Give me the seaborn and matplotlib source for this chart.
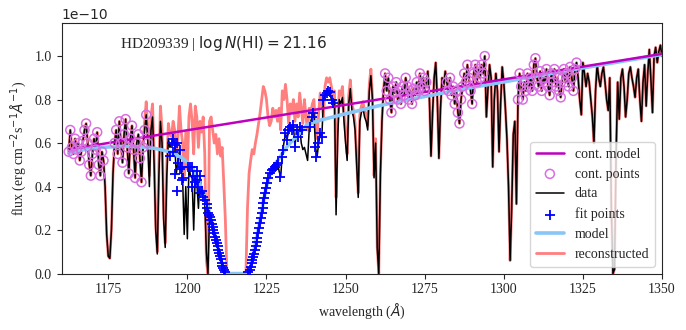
import matplotlib
matplotlib.use('Agg')
import matplotlib.pyplot as plt
import numpy as np
import seaborn as sns

# flux in units of 1e-10 erg/cm2/s/A, sampled every 0.5 A from the segment start
data_segments = [
    (1162.5, [0.56, 0.66, 0.58, 0.55, 0.62, 0.57, 0.60, 0.52, 0.56, 0.61,
              0.66, 0.69, 0.60, 0.50, 0.45, 0.55, 0.62, 0.57, 0.65, 0.50,
              0.45, 0.56, 0.52, 0.40, 0.18, 0.08, 0.07, 0.20, 0.46, 0.60,
              0.66, 0.55, 0.70, 0.60, 0.51, 0.64, 0.71, 0.58, 0.46, 0.62,
              0.68, 0.57, 0.44, 0.60, 0.64, 0.53, 0.42, 0.58, 0.66, 0.73,
              0.60, 0.40, 0.66, 0.72, 0.50, 0.20, 0.09, 0.45, 0.70, 0.60,
              0.25, 0.12, 0.45, 0.62, 0.58]),
    (1195.0, [0.60, 0.62, 0.59, 0.46, 0.51, 0.57, 0.48, 0.44, 0.18, 0.40,
              0.16, 0.49, 0.45, 0.44, 0.20, 0.46, 0.42, 0.30, 0.45, 0.38,
              0.35, 0.33, 0.10, 0.00, 0.26, 0.24, 0.21, 0.18, 0.155, 0.125,
              0.095, 0.065, 0.035, 0.015, 0.005]),
    (1212.5, [0.0, 0.0, 0.0, 0.0, 0.0, 0.0, 0.0, 0.0, 0.0, 0.0, 0.0, 0.0, 0.0, 0.0]),
    (1219.5, [0.01, 0.03, 0.06, 0.09, 0.115, 0.155, 0.195, 0.24, 0.277, 0.323,
              0.369, 0.41, 0.435, 0.455, 0.474, 0.48, 0.49, 0.50, 0.505, 0.47,
              0.445, 0.55, 0.60, 0.645, 0.614, 0.66, 0.675, 0.66, 0.683, 0.583,
              0.66, 0.629, 0.675, 0.60, 0.57, 0.58, 0.55, 0.52, 0.66, 0.70,
              0.725, 0.735, 0.58, 0.537, 0.60, 0.645, 0.629, 0.798, 0.82, 0.829,
              0.84, 0.836, 0.80, 0.783, 0.80, 0.27]),
    (1247.5, [0.62, 0.80, 0.78, 0.81, 0.70, 0.60, 0.52, 0.78, 0.85, 0.75,
              0.72, 0.66, 0.50, 0.35, 0.70, 0.74, 0.76, 0.72, 0.70, 0.66,
              0.84, 0.91, 0.80, 0.44, 0.60, 0.12, 0.00, 0.45, 0.70, 0.84]),
    (1262.5, [0.92, 0.84, 0.90, 0.80, 0.74, 0.86, 0.83, 0.88, 0.80, 0.84,
              0.78, 0.86, 0.82, 0.90, 0.86, 0.80, 0.84, 0.78, 0.85, 0.82,
              0.88, 0.84, 0.92, 0.86, 0.90, 0.84, 0.88, 0.93, 0.80, 0.54,
              0.74, 0.90, 0.97, 0.80, 0.53, 0.76, 0.90, 0.86, 0.93]),
    (1282.0, [0.88, 0.84, 0.90, 0.82, 0.86, 0.78, 0.84, 0.74, 0.69, 0.80,
              0.86, 0.92, 0.88, 0.96, 0.90, 0.84, 0.78, 0.92, 0.96, 0.88,
              0.94, 0.90, 0.96, 0.92, 1.00]),
    (1294.5, [0.72, 0.85, 0.96, 0.90, 0.49, 0.80, 0.92, 0.84, 0.56, 0.78,
              0.95, 0.88, 0.76, 0.62, 0.40, 0.06, 0.30, 0.64, 0.70, 0.32]),
    (1304.5, [0.80, 0.92, 0.86, 0.80, 0.88, 0.84, 0.92, 0.86, 0.90, 0.84,
              0.96, 0.99, 0.90, 0.86, 0.93, 0.84, 0.90, 0.88, 0.94, 0.86,
              0.82, 0.92, 0.88, 0.94, 0.86, 0.90, 0.84, 0.81, 0.90, 0.94,
              0.88, 0.92, 0.86, 0.95, 0.90, 0.84, 0.94, 0.97]),
    (1323.5, [0.90, 0.80, 0.73, 0.97, 0.92, 0.86, 0.92, 0.88, 0.80, 0.72,
              0.60, 0.84, 0.96, 0.90, 0.86, 0.92, 0.95, 0.88, 0.80, 0.75,
              0.90, 0.30, 0.00, 0.02, 0.55, 0.88, 0.71, 0.90, 0.94, 0.86,
              0.72, 0.80, 0.92, 0.95, 0.90, 0.86, 0.81, 0.90, 0.94, 0.80,
              0.70, 0.88, 0.96, 0.77, 0.92, 1.03, 0.89, 0.74, 1.00, 1.04,
              0.97, 1.02, 1.05, 1.00]),
]

# reconstructed spectrum around Ly-alpha (same 0.5 A grid), nan = not drawn
recon_start = 1186.0
recon_values = [0.60, 0.70, 0.79, 0.66, 0.45, 0.72, 0.78, 0.55, 0.22, 0.10,
                0.50, 0.77, 0.66, 0.28, 0.14, 0.50, 0.69, 0.64, 0.63, 0.70,
                0.66, 0.54, 0.62, 0.77, 0.66, 0.60, 0.45, 0.65, 0.48, 0.72,
                0.78, 0.70, 0.55, 0.77, 0.72, 0.58, 0.70, 0.65, 0.72, 0.55,
                0.06, 0.00, 0.70, 0.72, 0.66, 0.60, 0.64, 0.55, 0.62, 0.54,
                0.58, 0.42, 0.25, 0.00,
                np.nan, np.nan, np.nan, np.nan, np.nan, np.nan, np.nan, np.nan,
                np.nan, np.nan, np.nan,
                0.00, 0.30, 0.46, 0.52, 0.57, 0.55, 0.60, 0.64,
                0.69, 0.74, 0.80, 0.86, 0.84, 0.80, 0.72, 0.68, 0.70, 0.76,
                0.72, 0.75, 0.70, 0.76, 0.66, 0.84, 0.80, 0.87, 0.80, 0.69,
                0.78, 0.74, 0.80, 0.70, 0.78, 0.72, 0.83, 0.76, 0.69, 0.80,
                0.72, 0.66, 0.76, 0.74, 0.78, 0.80, 0.68, 0.62, 0.74, 0.83,
                0.78, 0.72, 0.86, 0.90, 0.88, 0.90, 0.86, 0.81, 0.84, 0.35,
                0.68, 0.84, 0.82, 0.86, 0.74, 0.64, 0.55, 0.82, 0.89, 0.78,
                0.75, 0.69, 0.52, 0.37, 0.73, 0.77, 0.79, 0.75, 0.73, 0.68,
                0.87, 0.94, 0.82, 0.45, 0.62, 0.12, 0.00, 0.46, 0.71, 0.85]

# wavelength windows used as continuum points
cont_windows = [(1162.4, 1173.6), (1177.0, 1187.6), (1262.4, 1275.8),
                (1282.0, 1294.1), (1304.4, 1323.4)]

# continuum model
cont_wave = [1163.0, 1200.0, 1250.0, 1300.0, 1350.0]
cont_flux = [0.572, 0.659, 0.776, 0.893, 1.010]

# Voigt model
model_wave = [1162.5, 1166, 1170, 1175, 1180, 1185, 1190, 1194.5, 1198, 1201,
              1203, 1205, 1207, 1209, 1210.5, 1211.5, 1212.5, 1219.0, 1220, 1221,
              1222, 1223, 1224, 1225, 1226, 1227.5, 1229.3, 1231, 1233.4, 1235.5,
              1237.8, 1241.9, 1246, 1250, 1255, 1260, 1270, 1280, 1290, 1300,
              1310, 1320, 1335, 1350]
model_flux = [0.553, 0.566, 0.576, 0.582, 0.585, 0.583, 0.575, 0.560, 0.535, 0.50,
              0.45, 0.37, 0.28, 0.16, 0.07, 0.02, 0.0, 0.0, 0.03, 0.10,
              0.17, 0.245, 0.33, 0.40, 0.45, 0.50, 0.535, 0.575, 0.615, 0.645,
              0.685, 0.705, 0.72, 0.735, 0.752, 0.770, 0.800, 0.828, 0.856, 0.881,
              0.907, 0.933, 0.970, 1.007]

# points used in the fit (wavelength, flux)
fit_points = [
    (1194.5, 0.54), (1195.0, 0.60), (1195.35, 0.56), (1195.5, 0.62), (1196.1, 0.59),
    (1196.1, 0.46), (1196.6, 0.60), (1196.6, 0.38), (1197.1, 0.51), (1197.7, 0.48),
    (1197.7, 0.57), (1198.2, 0.43), (1198.2, 0.49), (1198.7, 0.44), (1200.3, 0.49),
    (1200.8, 0.49), (1201.4, 0.49), (1201.4, 0.40), (1201.9, 0.45), (1202.4, 0.42),
    (1202.9, 0.47), (1202.9, 0.43), (1203.4, 0.40), (1204.0, 0.45), (1204.0, 0.37),
    (1204.5, 0.38), (1205.0, 0.35), (1205.5, 0.34), (1206.1, 0.32), (1206.35, 0.30),
    (1206.6, 0.28), (1206.85, 0.27), (1207.1, 0.26), (1207.4, 0.245), (1207.7, 0.23),
    (1207.95, 0.215), (1208.2, 0.20), (1208.45, 0.185), (1208.7, 0.17), (1209.0, 0.155),
    (1209.3, 0.14), (1209.55, 0.125), (1209.8, 0.11), (1210.05, 0.095), (1210.3, 0.08),
    (1210.55, 0.065), (1210.8, 0.05), (1211.05, 0.035), (1211.3, 0.024), (1211.6, 0.015),
    (1211.9, 0.008),
    (1219.3, 0.005), (1219.8, 0.016), (1220.05, 0.03), (1220.3, 0.047), (1220.55, 0.062),
    (1220.8, 0.077), (1221.1, 0.092), (1221.4, 0.108), (1221.65, 0.127), (1221.9, 0.146),
    (1222.15, 0.165), (1222.4, 0.185), (1222.65, 0.208), (1222.9, 0.231), (1223.2, 0.254),
    (1223.5, 0.277), (1223.75, 0.30), (1224.0, 0.323), (1224.25, 0.346), (1224.5, 0.369),
    (1224.8, 0.392), (1225.1, 0.415), (1225.6, 0.438), (1226.1, 0.461), (1226.6, 0.476),
    (1227.2, 0.48), (1227.7, 0.491), (1228.2, 0.50), (1228.7, 0.507), (1229.3, 0.445),
    (1229.8, 0.537), (1230.3, 0.568), (1230.8, 0.645), (1231.4, 0.614), (1231.9, 0.660),
    (1232.4, 0.675), (1233.0, 0.66), (1233.5, 0.683), (1234.0, 0.583), (1234.5, 0.660),
    (1235.0, 0.629), (1235.6, 0.675), (1236.1, 0.66), (1238.7, 0.675), (1239.3, 0.721),
    (1239.8, 0.737), (1240.3, 0.583), (1240.8, 0.537), (1241.4, 0.60), (1241.9, 0.645),
    (1242.4, 0.629), (1243.0, 0.798), (1243.5, 0.82), (1244.0, 0.829), (1244.5, 0.84),
    (1245.1, 0.836), (1245.6, 0.798), (1246.1, 0.783),
]

SCALE = 1e-10

# ---------------------------------------------------------------------------
data_wave = np.concatenate([start + 0.5 * np.arange(len(v)) for start, v in data_segments])
data_flux = np.concatenate([np.array(v, dtype=float) for _, v in data_segments])

recon = data_flux.copy()
i0 = int(np.argmin(np.abs(data_wave - recon_start)))
recon[i0:i0 + len(recon_values)] = recon_values

cont_mask = np.zeros(len(data_wave), dtype=bool)
for lo, hi in cont_windows:
    cont_mask |= (data_wave >= lo) & (data_wave <= hi)

fit_wave = np.array([p[0] for p in fit_points])
fit_flux = np.array([p[1] for p in fit_points])

sns.set_style('ticks')
plt.rcParams['font.family'] = 'serif'
plt.rcParams['font.serif'] = ['Liberation Serif', 'DejaVu Serif']
plt.rcParams['mathtext.fontset'] = 'dejavusans'

fig = plt.figure(figsize=(6.86, 3.3), dpi=100)
ax = fig.add_axes([0.09, 0.171, 0.875, 0.758])

# reconstructed spectrum, split where it is undefined
finite = np.isfinite(recon).astype(int)
edges = np.flatnonzero(np.diff(finite)) + 1
first = True
for w, f in zip(np.split(data_wave, edges), np.split(recon, edges)):
    if np.isfinite(f).all():
        sns.lineplot(x=w, y=f * SCALE, ax=ax, color='#ff7f7f', lw=2.0,
                     sort=False, estimator=None, zorder=1,
                     label='reconstructed' if first else None)
        first = False

sns.lineplot(x=data_wave, y=data_flux * SCALE, ax=ax, color='black', lw=1.1,
             sort=False, estimator=None, zorder=2, label='data')
sns.lineplot(x=model_wave, y=np.array(model_flux) * SCALE, ax=ax, color='#87c6f7',
             lw=2.6, sort=False, estimator=None, zorder=3, label='model')
sns.lineplot(x=cont_wave, y=np.array(cont_flux) * SCALE, ax=ax, color='#bf00bf',
             lw=1.8, sort=False, estimator=None, zorder=4, label='cont. model')
sns.scatterplot(x=data_wave[cont_mask], y=data_flux[cont_mask] * SCALE, ax=ax,
                marker='o', s=42, facecolors='none', edgecolor='#d86ee0',
                linewidth=1.1, zorder=5, label='cont. points')
sns.scatterplot(x=fit_wave, y=fit_flux * SCALE, ax=ax, marker='+', s=50,
                color='blue', linewidth=1.3, zorder=6, label='fit points')

ax.set_xlim(1160.3, 1350)
ax.set_ylim(0, 1.15e-10)
ax.set_xticks([1175, 1200, 1225, 1250, 1275, 1300, 1325, 1350])
ax.set_yticks([0, 0.2e-10, 0.4e-10, 0.6e-10, 0.8e-10, 1.0e-10])
ax.tick_params(labelsize=10)
ax.yaxis.get_offset_text().set_fontfamily('DejaVu Sans')
ax.yaxis.get_offset_text().set_fontsize(10)

ax.set_xlabel(r'wavelength ($\AA$)', fontsize=10)
ax.set_ylabel(r'flux (erg cm$^{-2}$s$^{-1}$$\AA^{-1}$)', fontsize=10)

ax.text(0.097, 0.902, r'HD209339 | $\log N(\mathrm{HI}) = 21.16$',
        transform=ax.transAxes, fontsize=11, va='baseline', ha='left')

handles, labels = ax.get_legend_handles_labels()
order = np.argsort(labels)
ax.legend([handles[i] for i in order], [labels[i] for i in order],
          loc='lower right', fontsize=10)

fig.savefig('out.png', dpi=100)
